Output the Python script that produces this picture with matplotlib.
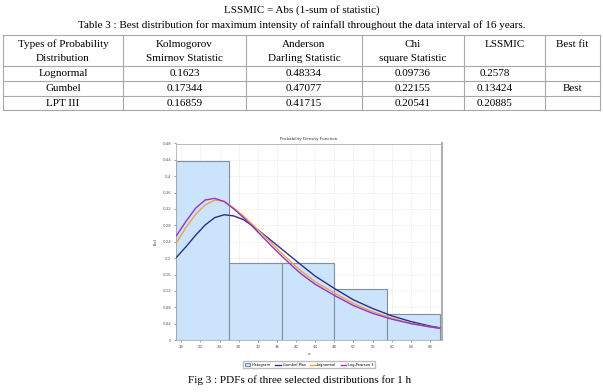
import matplotlib

matplotlib.use("Agg")
import matplotlib.pyplot as plt
import numpy as np

# table data
headers = [
    "Types of Probability\nDistribution",
    "Kolmogorov\nSmirnov Statistic",
    "Anderson\nDarling Statistic",
    "Chi\nsquare Statistic",
    "LSSMIC\n",
    "Best fit\n",
]
row_names = ["Lognormal", "Gumbel", "LPT III"]
ks_stat = ["0.1623", "0.17344", "0.16859"]
ad_stat = ["0.48334", "0.47077", "0.41715"]
chi_stat = ["0.09736", "0.22155", "0.20541"]
lssmic = ["0.2578", "0.13424", "0.20885"]
best_fit = ["", "Best", ""]

# histogram (relative frequency, 16 years)
bin_edges = [15, 26, 37, 48, 59, 70]
hist_freq = [0.4375, 0.1875, 0.1875, 0.125, 0.0625]

# fitted pdf curves
curve_x = [15, 17, 19, 21, 23, 25, 27, 29, 31, 33, 35, 37, 39, 41, 44, 48,
           52, 56, 60, 64, 68, 70]
gumbel_max = [0.202, 0.228, 0.256, 0.281, 0.299, 0.306, 0.303, 0.294, 0.278,
              0.260, 0.241, 0.222, 0.203, 0.184, 0.156, 0.126, 0.098, 0.077,
              0.059, 0.045, 0.034, 0.030]
lognormal = [0.238, 0.275, 0.307, 0.330, 0.3417, 0.339, 0.322, 0.303, 0.281,
             0.258, 0.235, 0.212, 0.190, 0.169, 0.142, 0.115, 0.089, 0.069,
             0.053, 0.041, 0.032, 0.029]
log_pearson3 = [0.255, 0.290, 0.322, 0.342, 0.346, 0.338, 0.320, 0.299, 0.276,
                0.252, 0.228, 0.205, 0.183, 0.162, 0.136, 0.109, 0.084, 0.065,
                0.051, 0.040, 0.032, 0.0286]

x_ticks = list(range(16, 69, 4))
y_ticks = [0, 0.04, 0.08, 0.12, 0.16, 0.2, 0.24, 0.28, 0.32, 0.36, 0.4, 0.44, 0.48]

W, H = 603, 392
fig = plt.figure(figsize=(W / 100, H / 100), dpi=100)
serif = "Liberation Serif"

# page overlay in pixel coordinates
page = fig.add_axes([0, 0, 1, 1])
page.set_xlim(0, W)
page.set_ylim(H, 0)
page.axis("off")

page.text(W / 2, 10, "LSSMIC = Abs (1-sum of statistic)", ha="center", va="center",
          fontsize=8, family=serif)
page.text(W / 2, 25, "Table 3 : Best distribution for maximum intensity of rainfall "
          "throughout the data interval of 16 years.", ha="center", va="center",
          fontsize=8, family=serif)

col_edges = [3, 123, 246, 362, 464, 545, 600]
row_lines = [35, 66, 81, 96, 110]
line_kw = dict(color="#a8a8a8", lw=0.8)
for y in row_lines:
    page.plot([col_edges[0], col_edges[-1]], [y, y], **line_kw)
for x in col_edges:
    page.plot([x, x], [row_lines[0], row_lines[-1]], **line_kw)

col_centers = [(a + b) / 2 for a, b in zip(col_edges[:-1], col_edges[1:])]
for cx, head in zip(col_centers, headers):
    top, bottom = head.split("\n")
    page.text(cx, 44, top, ha="center", va="center", fontsize=8, family=serif)
    page.text(cx, 58, bottom, ha="center", va="center", fontsize=8, family=serif)

row_y = [73, 88.5, 103]
columns = [row_names, ks_stat, ad_stat, chi_stat, lssmic, best_fit]
for ci, col in enumerate(columns):
    cx = col_centers[ci] - (10 if ci == 4 else 0)
    for ry, val in zip(row_y, col):
        page.text(cx, ry, val, ha="center", va="center", fontsize=8, family=serif)

page.text(300, 380, "Fig 3 : PDFs of three selected distributions for 1 h", ha="center",
          va="center", fontsize=8, family=serif)

# chart
ax = fig.add_axes([176 / W, 1 - 340 / H, 266 / W, 196.5 / H])
ax.set_zorder(2)
bars = ax.bar(bin_edges[:-1], hist_freq, width=np.diff(bin_edges), align="edge",
              color="#cce4fb", edgecolor="#7f8fa0", linewidth=0.8, zorder=2)
l1, = ax.plot(curve_x, gumbel_max, color="#2e2e8a", lw=1.0, zorder=3)
l2, = ax.plot(curve_x, lognormal, color="#f0a048", lw=1.0, zorder=3)
l3, = ax.plot(curve_x, log_pearson3, color="#9433c8", lw=1.0, zorder=4)

ax.set_xlim(14.9, 70.5)
ax.set_ylim(0, 0.48)
ax.set_xticks(x_ticks)
ax.set_yticks(y_ticks)
ax.set_yticklabels(["0", "0.04", "0.08", "0.12", "0.16", "0.2", "0.24", "0.28",
                    "0.32", "0.36", "0.4", "0.44", "0.48"])
ax.set_xticks(np.arange(15, 71, 1), minor=True)
ax.tick_params(labelsize=2.8, length=1.5, width=0.4, colors="#555555", pad=2)
ax.tick_params(which="minor", length=1, width=0.3, colors="#888888")
ax.grid(True, color="#e6e6e6", lw=0.4, ls="--", zorder=0)
ax.set_axisbelow(True)
for side in ax.spines.values():
    side.set_color("#b0b0b0")
    side.set_linewidth(0.6)
ax.spines["right"].set_linewidth(1.5)
ax.set_title("Probability Density Function", fontsize=3, pad=2.5, color="#333333")
ax.set_ylabel("f(x)", fontsize=3, labelpad=3, color="#333333")
ax.set_xlabel("x", fontsize=3, labelpad=2, color="#333333")
ax.legend([bars, l1, l2, l3], ["Histogram", "Gumbel Max", "Lognormal", "Log-Pearson 3"],
          loc="upper center", bbox_to_anchor=(0.5, -0.1), ncol=4, fontsize=2.6,
          frameon=True, fancybox=False, edgecolor="#b0b0b0", handlelength=1.6,
          handletextpad=0.4, columnspacing=1.2, borderpad=0.4)

fig.savefig("out.png", dpi=100)
